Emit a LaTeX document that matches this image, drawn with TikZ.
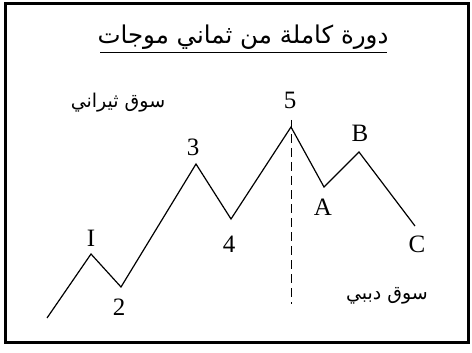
\documentclass[tikz,border=0pt]{standalone}
\usepackage{fontspec}
\setmainfont{Liberation Serif}
\newfontfamily\arabicfont[Script=Arabic]{DejaVu Sans}
\TeXXeTstate=1
\begin{document}
\begin{tikzpicture}[x=1pt,y=-1pt,
  wave/.style={line width=1.2pt,line join=miter},
  lbl/.style={font=\fontsize{25}{27}\selectfont,inner sep=0pt},
  ar/.style={font=\arabicfont\fontsize{19}{22}\selectfont,inner sep=0pt}]
\useasboundingbox (0,0) rectangle (472,353);
\draw[line width=3pt] (5,4) rectangle (468,342);
% title
\node[font=\arabicfont\fontsize{24.5}{28}\selectfont,inner sep=0pt] (title) at (243,37) {\beginR دورة كاملة من ثماني موجات\endR};
\draw[line width=1pt] (100,53) -- (387,53);
% wave points
\coordinate (s) at (47,318);
\coordinate (p1) at (91,254);
\coordinate (p2) at (121,287);
\coordinate (p3) at (196,164);
\coordinate (p4) at (231,219);
\coordinate (p5) at (291,127);
\coordinate (pa) at (324,187);
\coordinate (pb) at (359,152);
\coordinate (pc) at (415,226);
\draw[wave] (s) -- (p1) -- (p2) -- (p3) -- (p4) -- (p5) -- (pa) -- (pb) -- (pc);
\coordinate (dtop) at (291,120);
\coordinate (dbot) at (291,304);
\draw[line width=1pt,dash pattern=on 9pt off 5pt] (dtop) -- (dbot);
% labels
\node[lbl] (l1) at (91,238) {I};
\node[lbl] (l2) at (119,307) {2};
\node[lbl] (l3) at (193,147) {3};
\node[lbl] (l4) at (229,244) {4};
\node[lbl] (l5) at (290,100) {5};
\node[lbl] (la) at (323,207) {A};
\node[lbl] (lb) at (360,133) {B};
\node[lbl] (lc) at (417,244) {C};
\node[ar] (bull) at (118,103) {\beginR سوق ثيراني\endR};
\node[ar] (bear) at (387,296) {\beginR سوق دببي\endR};
\end{tikzpicture}
\end{document}
